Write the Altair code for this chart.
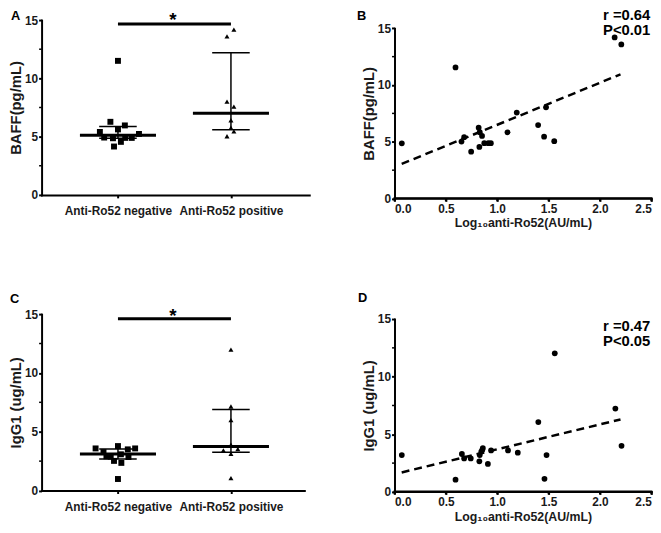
import altair as alt
import pandas as pd

# ---------------- data ----------------
categories = ["Anti-Ro52 negative", "Anti-Ro52 positive"]

# Panel A : BAFF (pg/mL) by group (x = group index + jitter)
baff_neg = [11.5, 6.27, 5.96, 5.62, 5.4, 5.23, 4.92, 4.86, 4.89, 4.89, 4.55, 4.15]
baff_neg_jit = [0, -0.067, 0.061, 0, -0.16, 0.186, -0.122, -0.044, 0.064, 0.122, 0.026, -0.035]
baff_pos = [14.18, 13.6, 8.0, 7.57, 6.4, 5.76, 5.45, 5.03]
baff_pos_jit = [0.026, -0.035, -0.035, 0.026, 0, 0, 0.026, -0.035]
baff_median = [5.11, 7.0]
baff_q1 = [4.86, 5.59]
baff_q3 = [5.87, 12.2]
baff_sig = 14.66

# Panel C : IgG1 (ug/mL) by group
igg_neg = [3.58, 3.78, 3.58, 3.5, 3.27, 2.91, 2.88, 3.08, 2.85, 2.52, 2.35, 0.98]
igg_neg_jit = [-0.198, 0, 0.152, 0.087, -0.128, -0.102, -0.064, 0.026, 0.093, -0.035, 0.03, 0]
igg_pos = [11.98, 7.14, 5.99, 3.89, 3.41, 3.53, 3.13, 1.06]
igg_pos_jit = [0, 0, 0, 0, -0.067, 0.061, 0, 0]
igg_median = [3.1, 3.75]
igg_q1 = [2.69, 3.25]
igg_q3 = [3.53, 6.88]
igg_sig = 14.61

# Panel B : BAFF vs log10 anti-Ro52
logro_b = [0.071, 0.594, 0.652, 0.678, 0.746, 0.819, 0.83, 0.852, 0.874, 0.826,
           0.913, 0.938, 1.10, 1.19, 1.398, 1.456, 1.475, 1.555, 2.143, 2.208]
baff_b = [4.87, 11.55, 5.02, 5.40, 4.13, 6.24, 5.85, 5.52, 4.88, 4.55,
          4.88, 4.88, 5.83, 7.57, 6.47, 5.45, 8.04, 5.05, 14.19, 13.58]
fit_x = [0.07, 2.2]
fit_b = [3.05, 10.94]

# Panel D : IgG1 vs log10 anti-Ro52
logro_d = [0.071, 0.594, 0.656, 0.678, 0.742, 0.826, 0.83, 0.845, 0.855, 0.86,
           0.909, 0.94, 1.105, 1.2, 1.4, 1.46, 1.48, 1.56, 2.15, 2.21]
igg_d = [3.2, 1.06, 3.29, 2.91, 2.91, 2.66, 3.2, 3.5, 3.65, 3.8,
         2.43, 3.6, 3.6, 3.4, 6.06, 1.14, 3.2, 12.03, 7.23, 4.0]
fit_d = [1.69, 6.29]

y_ticks = [0, 5, 10, 15]
y_minor = [2.5, 7.5, 12.5]
x_ticks = [0.0, 0.5, 1.0, 1.5, 2.0, 2.5]

FONT = "Liberation Sans"
BLACK = "#000000"
LBL = "#1a1a1a"


def y_axis(title, title_x):
    return alt.Axis(values=y_ticks, title=title, titleX=title_x, titleAngle=270,
                    titleAlign="center", titleBaseline="middle",
                    tickSize=3, labelPadding=1, format="d")


def minor_layer(yscale, yaxis):
    df = pd.DataFrame({"m": y_minor})
    return alt.Chart(df).mark_rule(color=BLACK, strokeWidth=1.5).encode(
        y=alt.Y("m:Q", scale=yscale, axis=yaxis), x=alt.value(-2.5), x2=alt.value(0))


def text_layer(txt, tx, ty, size, align="left"):
    return alt.Chart(pd.DataFrame({"t": [txt]})).mark_text(
        font=FONT, fontWeight="bold", fontSize=size, align=align, baseline="alphabetic",
        color=BLACK).encode(text="t:N", x=alt.value(tx), y=alt.value(ty))


def group_panel(neg, neg_j, pos, pos_j, med, q1, q3, sig_y, ytitle, letter,
                width, height, yrange, xoff, letter_xy, star_dy):
    xs = alt.Scale(domain=[-0.676, (width - 77.3) / 114.4], nice=False, zero=False)
    ys = alt.Scale(domain=[0, 15], range=yrange, nice=False, zero=False)
    label_expr = "datum.value == 0 ? '%s' : '%s'" % (categories[0], categories[1])
    xaxis = alt.Axis(values=[0, 1], labelExpr=label_expr, title=None, tickSize=3,
                     labelPadding=8, offset=xoff, labelFontSize=12)
    yaxis = y_axis(ytitle, -26.5)

    def X(f):
        return alt.X(f, scale=xs, axis=xaxis)

    def Y(f):
        return alt.Y(f, scale=ys, axis=yaxis)

    pts = pd.DataFrame({
        "x": [0 + j for j in neg_j] + [1 + j for j in pos_j],
        "y": neg + pos,
        "g": ["neg"] * len(neg) + ["pos"] * len(pos),
    })
    summ = pd.DataFrame({"x": [0, 1], "med": med, "q1": q1, "q3": q3})
    sig = pd.DataFrame({"x": [0], "x2": [1], "y": [sig_y], "sx": [0.487], "s": ["*"]})

    vert = alt.Chart(summ).mark_rule(color=BLACK, strokeWidth=1.5).encode(
        x=X("x:Q"), y=Y("q1:Q"), y2="q3:Q")
    cap_lo = alt.Chart(summ).mark_tick(color=BLACK, orient="horizontal", size=38,
                                       thickness=1.5, opacity=1).encode(
        x=X("x:Q"), y=Y("q1:Q"))
    cap_hi = alt.Chart(summ).mark_tick(color=BLACK, orient="horizontal", size=38,
                                       thickness=1.5, opacity=1).encode(
        x=X("x:Q"), y=Y("q3:Q"))
    median = alt.Chart(summ).mark_tick(color=BLACK, orient="horizontal", size=77,
                                       thickness=3, opacity=1).encode(
        x=X("x:Q"), y=Y("med:Q"))

    sq = alt.Chart(pts).transform_filter("datum.g == 'neg'").mark_point(
        shape="square", filled=True, color=BLACK, size=36, opacity=1).encode(
        x=X("x:Q"), y=Y("y:Q"))
    tri = alt.Chart(pts).transform_filter("datum.g == 'pos'").mark_point(
        shape="triangle-up", filled=True, color=BLACK, size=26, opacity=1).encode(
        x=X("x:Q"), y=Y("y:Q"))

    bar = alt.Chart(sig).mark_rule(color=BLACK, strokeWidth=3).encode(
        x=X("x:Q"), x2="x2:Q", y=Y("y:Q"))
    star = alt.Chart(sig).mark_text(font=FONT, fontWeight="bold", fontSize=19,
                                    color=BLACK, baseline="alphabetic", dy=star_dy).encode(
        x=X("sx:Q"), y=Y("y:Q"), text="s:N")

    return alt.layer(vert, cap_lo, cap_hi, median, sq, tri, bar, star,
                     minor_layer(ys, yaxis), text_layer(letter, *letter_xy, 13)).properties(
        width=width, height=height)


def scatter_panel(xv, yv, fy, ytitle, letter, width, height, yrange,
                  r_txt, p_txt, r_y, p_y, letter_xy):
    xs = alt.Scale(domain=[0, 2.5], nice=False, zero=False)
    ys = alt.Scale(domain=[0, 15], range=yrange, nice=False, zero=False)
    xaxis = alt.Axis(values=x_ticks, format=".1f", title="Log\u2081\u2080anti-Ro52(AU/mL)",
                     tickSize=3, labelPadding=2, titlePadding=3, titleFontSize=12.5,
                     offset=-0.5)
    yaxis = y_axis(ytitle, -25.8)
    pts = pd.DataFrame({"x": xv, "y": yv})
    fit = pd.DataFrame({"x": fit_x, "y": fy})
    ticks_df = pd.DataFrame({"x": x_ticks})
    base_df = pd.DataFrame({"x": [x_ticks[0]], "x2": [x_ticks[-1]]})

    def X(f):
        return alt.X(f, scale=xs, axis=xaxis)

    def Y(f):
        return alt.Y(f, scale=ys, axis=yaxis)

    dots = alt.Chart(pts).mark_circle(color=BLACK, size=34, opacity=1).encode(
        x=X("x:Q"), y=Y("y:Q"))
    line = alt.Chart(fit).mark_line(color=BLACK, strokeWidth=2.5,
                                    strokeDash=[8, 5]).encode(x=X("x:Q"), y=Y("y:Q"))
    # x-axis baseline and ticks (drawn explicitly along the axis)
    base = alt.Chart(base_df).mark_rule(color=BLACK, strokeWidth=2,
                                        strokeCap="square").encode(
        x=X("x:Q"), x2="x2:Q", y=alt.value(height - 0.5))
    tks = alt.Chart(ticks_df).mark_rule(color=BLACK, strokeWidth=2).encode(
        x=X("x:Q"), y=alt.value(height - 0.5), y2=alt.value(height + 2.5))
    return alt.layer(dots, line, base, tks, minor_layer(ys, yaxis),
                     text_layer(r_txt, width - 1, r_y, 15, "right"),
                     text_layer(p_txt, width - 1, p_y, 15, "right"),
                     text_layer(letter, *letter_xy, 13)).properties(width=width, height=height)


pA = group_panel(baff_neg, baff_neg_jit, baff_pos, baff_pos_jit, baff_median, baff_q1,
                 baff_q3, baff_sig, "BAFF(pg/mL)", "A", 271, 181, [177, 0], -4,
                 (-31, 0), 2)
pB = scatter_panel(logro_b, baff_b, fit_b, "BAFF(pg/mL)", "B", 260, 181, [180.7, 8.3],
                   "r =0.64", "P<0.01", -0.5, 15, (-38, 0))
pC = group_panel(igg_neg, igg_neg_jit, igg_pos, igg_pos_jit, igg_median, igg_q1,
                 igg_q3, igg_sig, "IgG1 (ug/mL)", "C", 266, 180, [178.6, 0], -1.4,
                 (-32, -11), 3.3)
pD = scatter_panel(logro_d, igg_d, fit_d, "IgG1 (ug/mL)", "D", 260, 180, [180, 5],
                   "r =0.47", "P<0.05", 17.3, 32.3, (-37, -12))

chart = alt.concat(pA, pB, pC, pD, columns=2).properties(
    spacing={"row": 116.7, "column": 86.3}, bounds="flush",
    padding={"top": -4, "left": 0, "right": 0, "bottom": 0},
    background="white"
).configure_view(stroke=None).configure_axis(
    grid=False, domainColor=BLACK, domainWidth=2, tickColor=BLACK, tickWidth=2,
    labelFont=FONT, labelFontWeight="bold", labelFontSize=12, labelColor=LBL,
    titleFont=FONT, titleFontWeight="bold", titleFontSize=15, titleColor=LBL,
    domainCap="square"
)

chart.save("out.html", embed_options={"renderer": "svg", "actions": False})
